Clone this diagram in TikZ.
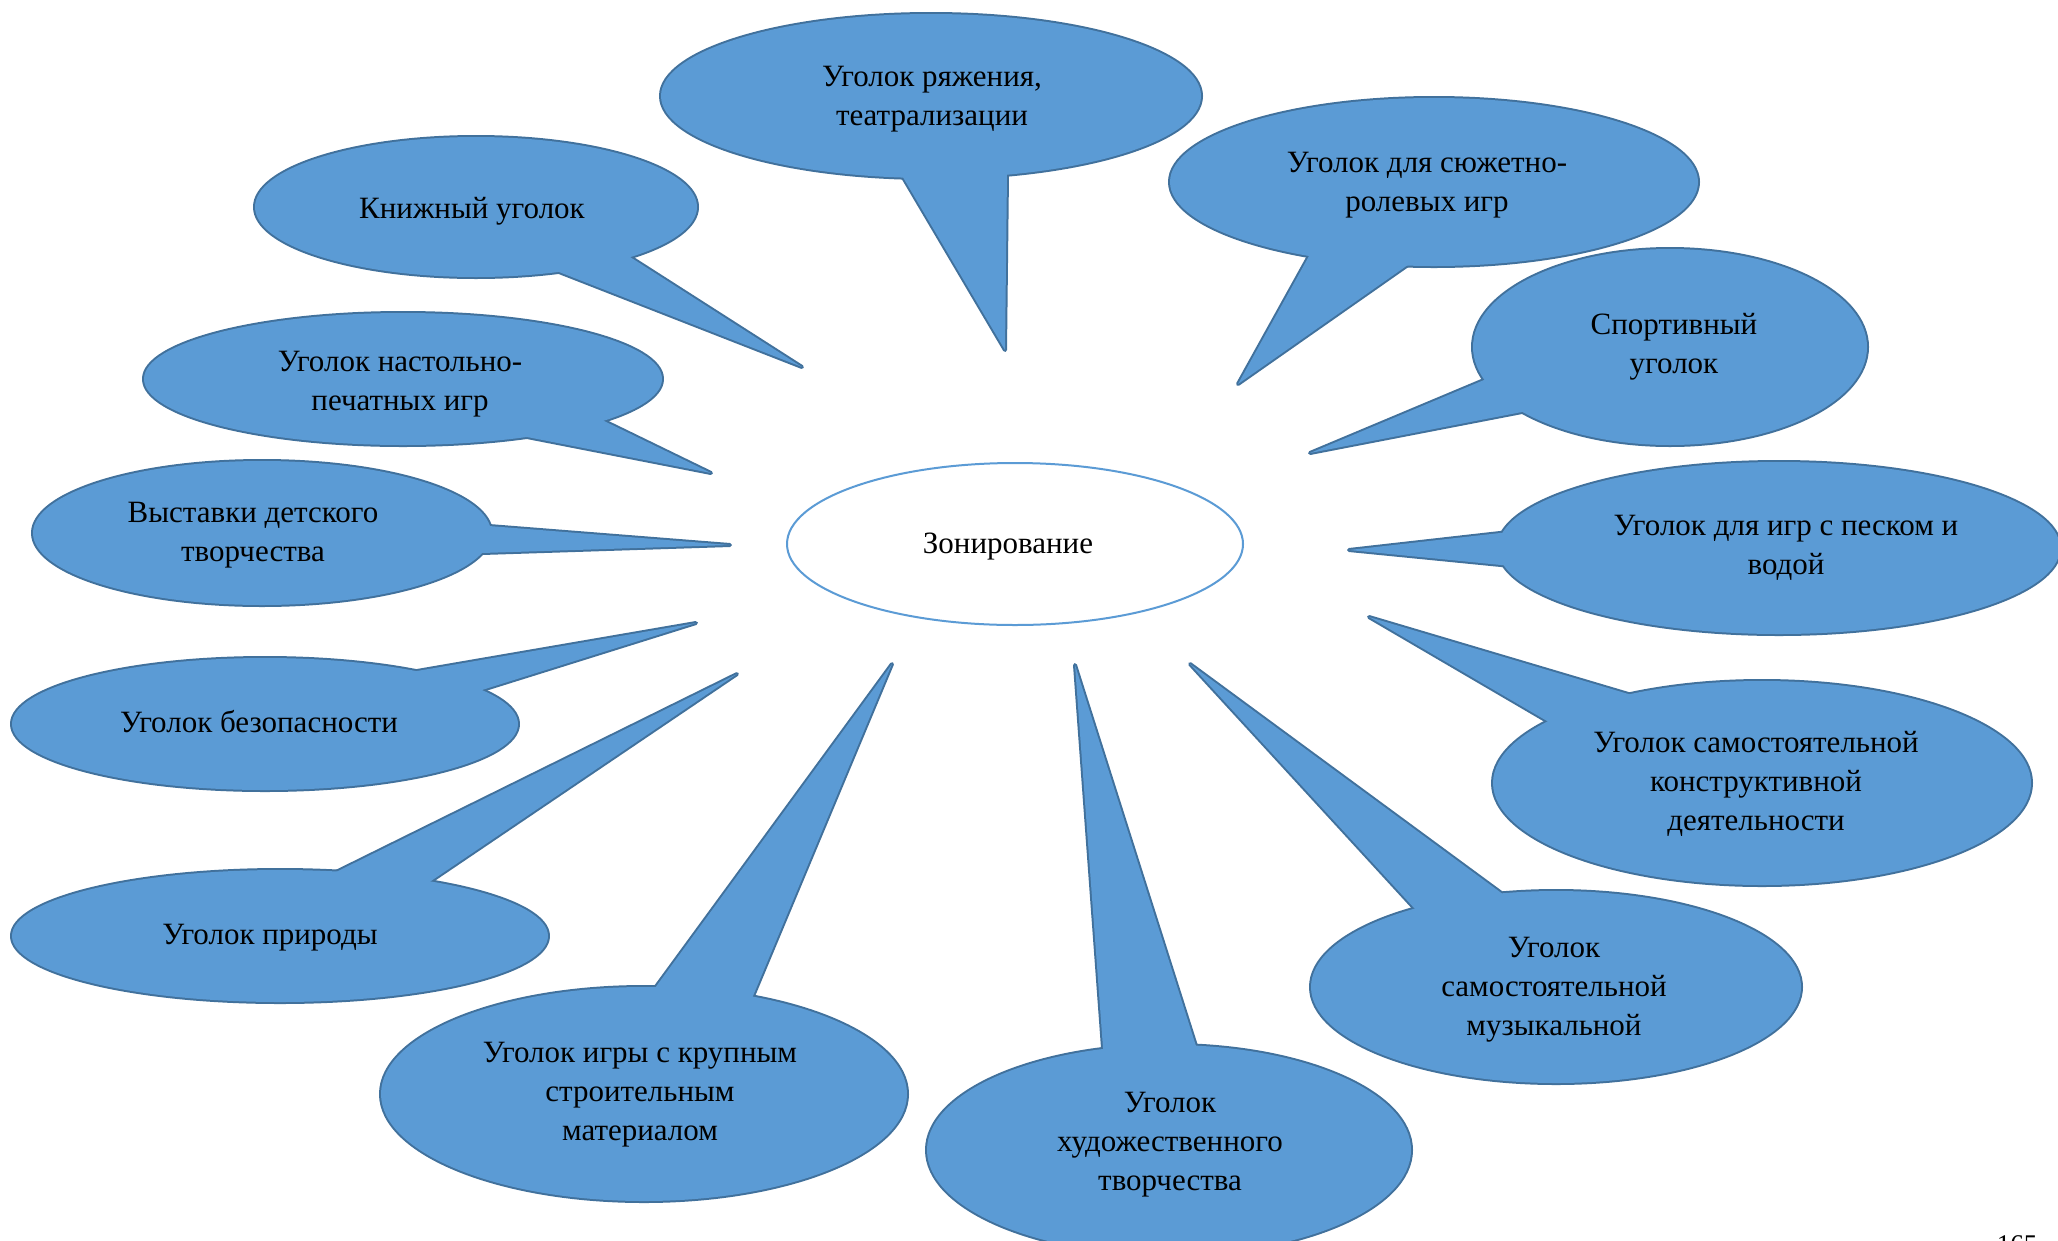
\documentclass[tikz,border=0pt]{standalone}
\usepackage{fontspec}
\setmainfont{Liberation Serif}
\usetikzlibrary{calc,shapes.geometric}
\definecolor{bubblefill}{HTML}{5B9BD5}
\definecolor{bubbleline}{HTML}{41719C}
\definecolor{centreline}{HTML}{5B9BD5}
\tikzset{
  bubedge/.style={draw=bubbleline, line width=4pt, line join=round},
  bubfill/.style={fill=bubblefill},
  txt/.style={font=\fontsize{31}{39}\selectfont, align=center, inner sep=0pt, text=black},
  centre/.style={ellipse, draw=centreline, line width=2pt, fill=white,
    minimum width=456pt, minimum height=162pt, inner sep=0pt},
}
% #1 name, #2 centre, #3 x radius, #4 y radius, #5 base A, #6 base B, #7 tip
\newcommand\callout[7]{%
  \coordinate (#1) at (#2);
  \coordinate (#1-tip) at (#7);
  \coordinate (#1-a) at ($(#5)!-8pt!(#1-tip)$);
  \coordinate (#1-b) at ($(#6)!-8pt!(#1-tip)$);
  \draw[bubedge] (#1) ellipse [x radius=#3pt, y radius=#4pt];
  \draw[bubedge] (#1-a) -- (#1-tip) -- (#1-b);
  \fill[bubfill] (#1) ellipse [x radius=#3pt, y radius=#4pt];
  \fill[bubfill] (#1-a) -- (#1-tip) -- (#1-b) -- cycle;
}
\begin{document}
\begin{tikzpicture}[x=1pt, y=-1pt]
\fill[white] (0,0) rectangle (2058,1240);
\useasboundingbox (0,0) rectangle (2058,1240);

% centre
\node[centre] (zone) at (1015,544) {};
\node[txt] (zonetext) at (1008,547) {Зонирование};

% callouts
\callout{b1}{931,96}{270}{82}{904,179}{1007,174}{1005,350}
\node[txt] (b1-t) at (932,99) {Уголок ряжения,\\театрализации};

\callout{b2}{476,207}{221}{70}{559,272}{630,257}{802,367}
\node[txt] (b2-t) at (472,211) {Книжный уголок};

\callout{b3}{403,379}{259}{66}{527,437}{602,420}{711,473}
\node[txt] (b3-t) at (400,384) {Уголок настольно-\\печатных игр};

\callout{b4}{262,533}{229}{72}{489,526}{482,553}{730,545}
\node[txt] (b4-t) at (253,535) {Выставки детского\\творчества};

\callout{b5}{265,724}{253}{66}{417,671}{482,690}{696,623}
\node[txt] (b5-t) at (259,722) {Уголок безопасности};

\callout{b6}{280,936}{268}{66}{338,871}{431,881}{737,674}
\node[txt] (b6-t) at (270,938) {Уголок природы};

\callout{b7}{644,1094}{263}{107}{655,988}{753,996}{892,664}
\node[txt] (b7-t) at (640,1095) {Уголок игры с крупным\\строительным\\материалом};

\callout{b8}{1169,1150}{242}{105}{1103,1048}{1196,1046}{1075,665}
\node[txt] (b8-t) at (1170,1145) {Уголок\\художественного\\творчества};

\callout{b9}{1556,987}{245}{96}{1415,909}{1500,892}{1190,664}
\node[txt] (b9-t) at (1554,990) {Уголок\\самостоятельной\\музыкальной};

\callout{b10}{1762,783}{269}{102}{1547,721}{1625,693}{1369,617}
\node[txt] (b10-t) at (1756,784) {Уголок самостоятельной\\конструктивной\\деятельности};

\callout{b11}{1779,548}{281}{86}{1500,533}{1501,565}{1349,550}
\node[txt] (b11-t) at (1786,548) {Уголок для игр с песком и\\водой};

\callout{b12}{1670,347}{197}{98}{1484,380}{1522,412}{1310,453}
\node[txt] (b12-t) at (1674,347) {Спортивный\\уголок};

\callout{b13}{1434,182}{264}{84}{1309,256}{1405,267}{1238,384}
\node[txt] (b13-t) at (1427,185) {Уголок для сюжетно-\\ролевых игр};

% page number (cut off at the bottom, as in the source)
\node[anchor=north, inner sep=0pt, font=\fontsize{27}{30}\selectfont] (pagenum) at (2017,1235) {165};
\end{tikzpicture}
\end{document}
